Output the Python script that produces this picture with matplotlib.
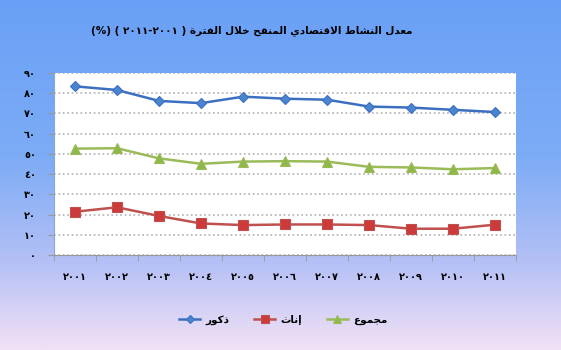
import numpy as np
import matplotlib
matplotlib.use("Agg")
import matplotlib.pyplot as plt
from matplotlib.ticker import FixedLocator

years = ["٢٠٠١", "٢٠٠٢", "٢٠٠٣", "٢٠٠٤", "٢٠٠٥", "٢٠٠٦",
         "٢٠٠٧", "٢٠٠٨", "٢٠٠٩", "٢٠١٠", "٢٠١١"]
males = [83.4, 81.6, 76.2, 75.1, 78.3, 77.3, 76.8, 73.4, 72.9, 71.8, 70.7]
females = [21.4, 23.6, 19.3, 15.6, 14.8, 15.1, 15.1, 14.8, 13.0, 13.0, 15.0]
total = [52.6, 52.8, 47.8, 45.1, 46.2, 46.4, 46.2, 43.6, 43.3, 42.4, 43.0]
yticks = [0, 10, 20, 30, 40, 50, 60, 70, 80, 90]
ytick_labels = ["٠", "١٠", "٢٠", "٣٠", "٤٠", "٥٠", "٦٠", "٧٠", "٨٠", "٩٠"]
title_words = ["معدل", "النشاط", "الاقتصادي", "المنقح", "خلال", "الفترة"]
title_tail = "(%) ( ٢٠١١-٢٠٠١ )"
legend_names = ["ذكور", "إناث", "مجموع"]

# presentation forms: isolated, final, initial, medial
FORMS = {
    'ا': ('\uFE8D', '\uFE8E', None, None), 'إ': ('\uFE87', '\uFE88', None, None),
    'ب': ('\uFE8F', '\uFE90', '\uFE91', '\uFE92'), 'ة': ('\uFE93', '\uFE94', None, None),
    'ت': ('\uFE95', '\uFE96', '\uFE97', '\uFE98'), 'ث': ('\uFE99', '\uFE9A', '\uFE9B', '\uFE9C'),
    'ج': ('\uFE9D', '\uFE9E', '\uFE9F', '\uFEA0'), 'ح': ('\uFEA1', '\uFEA2', '\uFEA3', '\uFEA4'),
    'خ': ('\uFEA5', '\uFEA6', '\uFEA7', '\uFEA8'), 'د': ('\uFEA9', '\uFEAA', None, None),
    'ذ': ('\uFEAB', '\uFEAC', None, None), 'ر': ('\uFEAD', '\uFEAE', None, None),
    'ش': ('\uFEB5', '\uFEB6', '\uFEB7', '\uFEB8'), 'ص': ('\uFEB9', '\uFEBA', '\uFEBB', '\uFEBC'),
    'ط': ('\uFEC1', '\uFEC2', '\uFEC3', '\uFEC4'), 'ع': ('\uFEC9', '\uFECA', '\uFECB', '\uFECC'),
    'ف': ('\uFED1', '\uFED2', '\uFED3', '\uFED4'), 'ق': ('\uFED5', '\uFED6', '\uFED7', '\uFED8'),
    'ك': ('\uFED9', '\uFEDA', '\uFEDB', '\uFEDC'), 'ل': ('\uFEDD', '\uFEDE', '\uFEDF', '\uFEE0'),
    'م': ('\uFEE1', '\uFEE2', '\uFEE3', '\uFEE4'), 'ن': ('\uFEE5', '\uFEE6', '\uFEE7', '\uFEE8'),
    'و': ('\uFEED', '\uFEEE', None, None), 'ي': ('\uFEF1', '\uFEF2', '\uFEF3', '\uFEF4'),
}
LAM_ALEF = {'ا': ('\uFEFB', '\uFEFC'), 'إ': ('\uFEF9', '\uFEFA')}


def shape(word):
    # join letters into contextual forms, return in visual (left to right) order
    letters = []
    i = 0
    while i < len(word):
        if word[i] == 'ل' and i + 1 < len(word) and word[i + 1] in LAM_ALEF:
            letters.append(('LA', word[i + 1]))
            i += 2
        else:
            letters.append(('C', word[i]))
            i += 1
    out = []
    for k, (kind, ch) in enumerate(letters):
        prev_joins = k > 0 and letters[k - 1][0] == 'C' and FORMS[letters[k - 1][1]][2] is not None
        if kind == 'LA':
            out.append(LAM_ALEF[ch][1 if prev_joins else 0])
            continue
        f = FORMS[ch]
        next_ok = k + 1 < len(letters) and f[2] is not None
        if prev_joins and next_ok:
            out.append(f[3])
        elif prev_joins:
            out.append(f[1])
        elif next_ok:
            out.append(f[2])
        else:
            out.append(f[0])
    return "".join(reversed(out))


title = title_tail + " " + " ".join(shape(w) for w in reversed(title_words))

plt.rcParams['font.family'] = ['DejaVu Sans']
fig = plt.figure(figsize=(5.61, 3.5), dpi=100)

# gradient background
bg = fig.add_axes([0, 0, 1, 1], zorder=-10)
stops = np.array([[105, 160, 245], [125, 172, 246], [180, 192, 245], [242, 225, 246]]) / 255.0
pos = np.array([0.0, 0.45, 0.75, 1.0])
t = np.linspace(0, 1, 200)
grad = np.stack([np.interp(t, pos, stops[:, c]) for c in range(3)], axis=1)
bg.imshow(grad[:, None, :], aspect='auto', extent=[0, 1, 0, 1])
bg.axis('off')

ax = fig.add_axes([0.0963, 0.2714, 0.8235, 0.52])
ax.set_facecolor('white')
x = np.arange(len(years))
ax.plot(x, males, color='#3c6fc0', lw=1.8, marker='D', ms=5.5,
        mfc='#4a86d0', mec='#3c6fc0', mew=0.8, label=shape(legend_names[0]))
ax.plot(x, females, color='#c0504d', lw=1.8, marker='s', ms=6.5,
        mfc='#cc3a3a', mec='#c0504d', mew=0.8, label=shape(legend_names[1]))
ax.plot(x, total, color='#9bbb59', lw=1.8, marker='^', ms=6.5,
        mfc='#8fb84a', mec='#9bbb59', mew=0.8, label=shape(legend_names[2]))

ax.set_xlim(-0.5, len(years) - 0.5)
ax.set_ylim(0, 90)
ax.set_yticks(yticks)
ax.set_yticklabels(ytick_labels, fontsize=7, fontweight='bold')
ax.set_xticks(x)
ax.set_xticklabels(years, fontsize=7, fontweight='bold')
ax.tick_params(axis='x', length=0, pad=12)
ax.xaxis.set_minor_locator(FixedLocator(np.arange(-0.5, len(years), 1)))
ax.tick_params(axis='x', which='minor', length=4, color='#999999', direction='out')
ax.tick_params(axis='y', length=4, color='#999999', pad=9)
ax.grid(axis='y', color='#b0b0b0', ls=':', lw=1.2)
ax.set_axisbelow(True)
for s in ['top', 'right']:
    ax.spines[s].set_visible(False)
ax.spines['left'].set_color('#8aa6d8')
ax.spines['bottom'].set_color('#999999')

fig.text(0.448, 0.914, title, ha='center', va='center', fontsize=7.5, fontweight='bold')
fig.legend(loc='center', bbox_to_anchor=(0.505, 0.085), ncol=3, frameon=False,
           prop={'weight': 'bold', 'size': 7.5}, handlelength=2.0,
           columnspacing=2.4, handletextpad=0.5, markerscale=0.8)

fig.savefig("out.png", dpi=100)
